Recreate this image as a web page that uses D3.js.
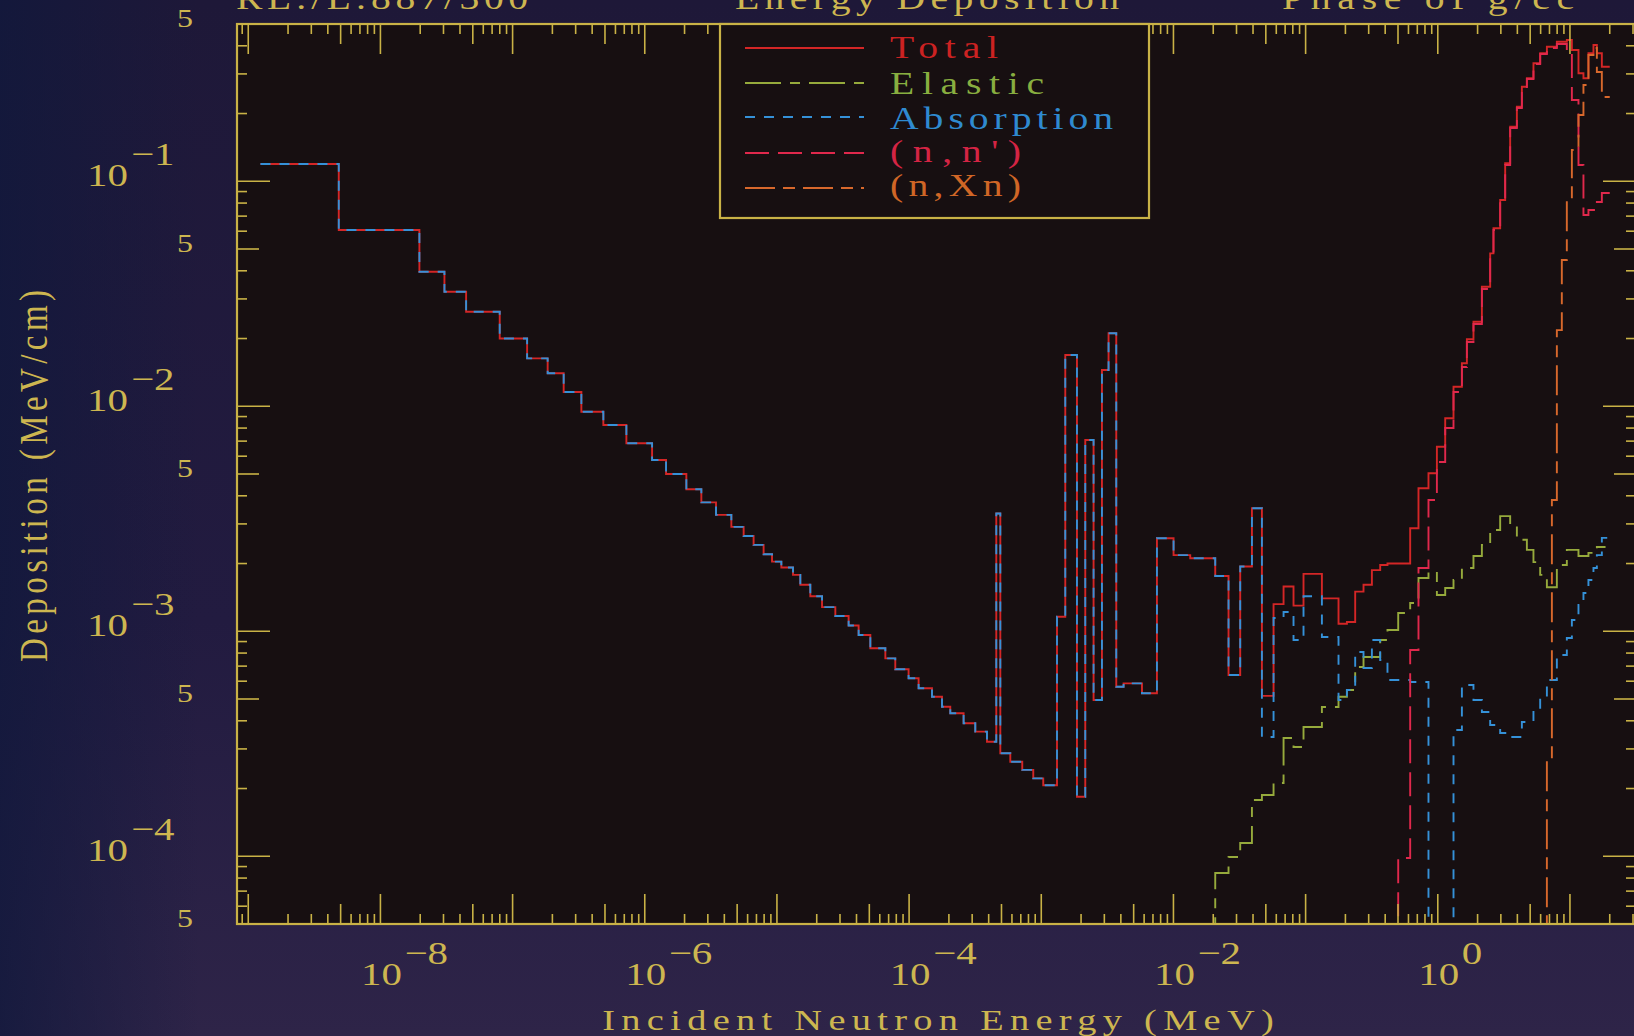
<!DOCTYPE html>
<html><head><meta charset="utf-8">
<script src="https://cdn.jsdelivr.net/npm/d3@7"></script>
<style>html,body{margin:0;padding:0;background:#211b3c;overflow:hidden}</style>
</head><body><svg id="c" width="1634" height="1036"></svg>
<script>
// ---------- DATA (energies in MeV, deposition in MeV/cm) ----------
const groupEdges = [
 1.237e-9, 4.84e-9, 1.972e-8, 3.05e-8, 4.45e-8, 7.99e-8, 1.288e-7, 1.842e-7, 2.435e-7, 3.314e-7,
 4.86e-7, 7.26e-7, 1.136e-6, 1.449e-6, 2.064e-6, 2.68e-6, 3.46e-6, 4.52e-6, 5.60e-6, 6.66e-6,
 7.93e-6, 9.18e-6, 1.080e-5, 1.323e-5, 1.503e-5, 1.789e-5, 2.194e-5, 2.766e-5, 3.486e-5, 4.15e-5,
 5.09e-5, 6.61e-5, 7.86e-5, 9.91e-5, 1.180e-4, 1.490e-4, 1.774e-4, 2.049e-4, 2.584e-4, 3.168e-4,
 3.884e-4, 4.567e-4, 4.90e-4, 5.83e-4, 7.18e-4, 8.70e-4, 1.035e-3, 1.315e-3, 1.519e-3, 1.862e-3,
 2.152e-3, 2.487e-3, 2.878e-3, 3.229e-3, 3.693e-3, 4.194e-3, 5.78e-3, 7.50e-3, 1.002e-2, 1.340e-2,
 2.071e-2, 2.611e-2, 3.200e-2, 3.925e-2, 4.67e-2, 5.72e-2, 6.81e-2, 8.10e-2, 9.64e-2, 0.1328,
 0.1774, 0.2053, 0.2372, 0.2742, 0.3173, 0.3666, 0.4163, 0.5018, 0.6183, 0.7145,
 0.8504, 0.9845, 1.138, 1.315, 1.522, 1.660, 1.862, 2.156, 2.491, 2.638,
 2.965, 3.235, 3.529, 3.966, 4.327, 4.721, 5.295, 5.953, 6.69, 7.96,
 9.47, 10.34, 11.60, 12.65, 13.80, 15.06, 15.98, 17.43, 20.0];

const totalValues = [
 0.1193, 0.0607, 0.0396, 0.0323, 0.0263, 0.0200, 0.01633, 0.01401, 0.01157, 0.00946,
 0.00826, 0.00685, 0.00577, 0.00500, 0.00428, 0.00374, 0.00329, 0.00291, 0.00265, 0.00242,
 0.00220, 0.00204, 0.00192, 0.00178, 0.00161, 0.00143, 0.00128, 0.00117, 0.00106, 0.000962,
 0.000840, 0.000758, 0.000678, 0.000618, 0.000558, 0.000512, 0.000462, 0.000432, 0.000390, 0.000358,
 0.000323, 0.00334, 0.000287, 0.000263, 0.000242, 0.000222, 0.000207, 0.00116, 0.0169, 0.000184,
 0.00708, 0.000495, 0.0145, 0.0211, 0.000567, 0.000587, 0.000530, 0.00259, 0.00218, 0.00211,
 0.00176, 0.000639, 0.00194, 0.00352, 0.000516, 0.00132, 0.00158, 0.00130, 0.00180, 0.00140,
 0.00108, 0.00110, 0.00150, 0.00161, 0.00187, 0.00197, 0.00200, 0.00200, 0.00287, 0.00432,
 0.00504, 0.00661, 0.00884, 0.01222, 0.01552, 0.01984, 0.02376, 0.0340, 0.0478, 0.0618,
 0.0826, 0.1202, 0.1748, 0.2145, 0.2632, 0.2869, 0.3344, 0.3704, 0.3963, 0.4172,
 0.4244, 0.3833, 0.3019, 0.2869, 0.3704, 0.4033, 0.3704, 0.3230];

// absorption equals total below 0.0467 MeV; values above that differ
const absorptionHigh = [
 0.000339, 0.001146, 0.001218, 0.000915, 0.00143, 0.000943, 0.000495, 0.000548, 0.000809, 0.000687,
 0.000915, 0.000745, 0.000607, 0.000607, 0.000595, 0.000595, 2e-5, 2e-5, 2e-5, 0.000364,
 0.000577, 0.000577, 0.000495, 0.000438, 0.000383, 0.000383, 0.000353, 0.000353, 0.000339, 0.000339,
 0.000395, 0.000395, 0.000447, 0.000512, 0.000607, 0.000784, 0.000933, 0.001122, 0.001308, 0.001479,
 0.00169, 0.00191, 0.00218, 0.00260];
const absorptionSplitE = 4.67e-2;

const elasticFrom = 2.071e-2;
const elasticValues = [
 8.42e-5, 9.92e-5, 1.146e-4, 1.779e-4, 1.873e-4, 2.117e-4, 3.354e-4, 3.059e-4, 3.754e-4, 4.607e-4,
 5.12e-4, 5.48e-4, 6.94e-4, 7.69e-4, 7.69e-4, 9.15e-4, 1.013e-3, 1.206e-3, 1.335e-3, 1.725e-3,
 1.834e-3, 1.450e-3, 1.557e-3, 1.69e-3, 1.91e-3, 1.91e-3, 2.16e-3, 2.42e-3, 2.82e-3, 2.82e-3,
 3.25e-3, 3.25e-3, 2.97e-3, 2.55e-3, 2.55e-3, 2.30e-3, 2.03e-3, 1.78e-3, 1.57e-3, 1.97e-3,
 2.30e-3, 2.30e-3, 2.16e-3, 2.16e-3, 2.23e-3, 2.23e-3, 2.37e-3, 2.37e-3];

const nnpFrom = 0.5018;
const nnpValues = [
 9.82e-5, 8.25e-4, 1.91e-3, 3.83e-3, 5.65e-3, 8.01e-3, 0.01157, 0.01495, 0.0193, 0.0232,
 0.0332, 0.0470, 0.0607, 0.0809, 0.1181, 0.1725, 0.2117, 0.2597, 0.2848, 0.3320,
 0.3678, 0.3911, 0.4075, 0.3755, 0.2297, 0.1181, 0.0708, 0.0745, 0.0745, 0.0809, 0.0887];

const nxnEdges = [6.69, 7.30, 7.96, 8.68, 9.47, 10.34, 11.60, 12.65, 13.80, 15.06, 15.98, 17.43, 20.0];
const nxnValues = [2.68e-4, 3.83e-3, 0.0218, 0.0447, 0.0826, 0.1377, 0.197, 0.268, 0.364, 0.391, 0.306, 0.2368];

const xTickExponents = [-8, -6, -4, -2, 0];
const yTickExponents = [-1, -2, -3, -4];
const yFiveTicks = [5e-1, 5e-2, 5e-3, 5e-4, 5e-5];
const legendLabels = ["Total", "Elastic", "Absorption", "(n,n')", "(n,Xn)"];
const titleTexts = ["RL:/L:887/300", "Energy Deposition", "Phase of g/cc"];
const xTitle = "Incident Neutron Energy (MeV)";
const yTitle = "Deposition (MeV/cm)";

// ---------- LAYOUT ----------
const W = 1634, H = 1036;
const L = 237, R = 1636, T = 24, B = 924;
const FONT = '"Liberation Serif","DejaVu Serif",serif';
const YEL = "#c9b246", TXT = "#cdb650";
const CH = 23;    // monospaced advance of the plotting font

const x = d3.scaleLog().domain([8.22e-10, 31.6]).range([L, R]);
const y = d3.scaleLog().domain([5e-5, 0.5]).range([B, T]);

const svg = d3.select("#c");
const defs = svg.append("defs");
const bg = defs.append("linearGradient").attr("id", "bgv").attr("x1", 0).attr("y1", 0).attr("x2", 0).attr("y2", 1);
bg.append("stop").attr("offset", "0%").attr("stop-color", "#1e1838");
bg.append("stop").attr("offset", "60%").attr("stop-color", "#221b40");
bg.append("stop").attr("offset", "100%").attr("stop-color", "#2e2448");
const bgl = defs.append("linearGradient").attr("id", "bgh").attr("x1", 0).attr("y1", 0).attr("x2", 1).attr("y2", 0);
bgl.append("stop").attr("offset", "0%").attr("stop-color", "#10183c").attr("stop-opacity", 0.75);
bgl.append("stop").attr("offset", "100%").attr("stop-color", "#10183c").attr("stop-opacity", 0);
defs.append("clipPath").attr("id", "plotclip").append("rect")
  .attr("x", L).attr("y", T).attr("width", R - L).attr("height", B - T);

svg.append("rect").attr("width", W).attr("height", H).attr("fill", "url(#bgv)");
svg.append("rect").attr("width", 200).attr("height", H).attr("fill", "url(#bgh)");
svg.append("rect").attr("x", L).attr("y", T).attr("width", R - L).attr("height", B - T).attr("fill", "#170f11");

// text in a wide, evenly spaced plotter style
function monoText(g, str, px, py, size, anchor, opts) {
  const o = Object.assign({adv: CH, sx: 1.28, sy: 1}, opts || {});
  const t = g.append("text").attr("transform", `translate(${px},${py}) scale(${o.sx},${o.sy})`)
    .attr("x", 0).attr("y", 0).attr("font-size", size).attr("font-family", FONT).text(str);
  if (anchor) t.attr("text-anchor", anchor);
  if (str.length > 2) t.attr("textLength", (o.adv * str.length - o.adv * 0.3) / o.sx).attr("lengthAdjust", "spacing");
  return t;
}

// ---------- TITLES (cut at the top edge, as in the source) ----------
const titleX = [236, 735, 1282];
const gTitle = svg.append("g").attr("fill", TXT);
titleTexts.forEach((t, i) => monoText(gTitle, t, titleX[i], 9, 31));

// ---------- SERIES ----------
const absorptionValues = totalValues.slice(0, groupEdges.indexOf(absorptionSplitE)).concat(absorptionHigh);
const series = [
  {name: "Total", edges: groupEdges, values: totalValues, color: "#d42626", dash: null, fromBottom: false},
  {name: "Elastic", edges: groupEdges.slice(groupEdges.indexOf(elasticFrom)), values: elasticValues, color: "#96aa3c", dash: "36,9,10,9", fromBottom: true},
  {name: "Absorption", edges: groupEdges, values: absorptionValues, color: "#3591d8", dash: "10,9", fromBottom: false},
  {name: "(n,n')", edges: groupEdges.slice(groupEdges.indexOf(nnpFrom)), values: nnpValues, color: "#e0284c", dash: "24,9", fromBottom: true},
  {name: "(n,Xn)", edges: nxnEdges, values: nxnValues, color: "#d8682c", dash: "30,8,12,8", fromBottom: true}
];
const legendColors = ["#cc2222", "#88ae40", "#2f8ad0", "#d42444", "#d06626"];

const line = d3.line().x(d => x(d[0])).y(d => y(d[1]));
function stepPoints(s) {
  const pts = [];
  if (s.fromBottom) pts.push([s.edges[0], y.domain()[0] * 0.2]);
  s.values.forEach((v, i) => { pts.push([s.edges[i], v]); pts.push([s.edges[i + 1], v]); });
  return pts;
}
const gData = svg.append("g").attr("clip-path", "url(#plotclip)");
series.forEach(s => {
  gData.append("path").attr("d", line(stepPoints(s))).attr("fill", "none")
    .attr("stroke", s.color).attr("stroke-width", 1.9)
    .attr("stroke-dasharray", s.dash).attr("stroke-linejoin", "miter");
});

// ---------- TICKS ----------
function logTicks(scale) {
  const [a, b] = scale.domain(), out = [];
  for (let d = Math.floor(Math.log10(a)); d <= Math.ceil(Math.log10(b)); d++) {
    for (let m = 1; m <= 9; m++) {
      const v = m * Math.pow(10, d);
      if (v >= a * 0.999 && v <= b * 1.001) out.push({v, m});
    }
  }
  return out;
}
const gt = svg.append("g").attr("stroke", YEL).attr("stroke-width", 1.6);
logTicks(x).forEach(t => {
  const len = t.m === 1 ? 30 : (t.m === 5 ? 20 : 10);
  const px = x(t.v);
  gt.append("line").attr("x1", px).attr("x2", px).attr("y1", B).attr("y2", B - len);
  gt.append("line").attr("x1", px).attr("x2", px).attr("y1", T).attr("y2", T + len);
});
logTicks(y).forEach(t => {
  const len = t.m === 1 ? 33 : (t.m === 5 ? 22 : 10);
  const py = y(t.v);
  gt.append("line").attr("x1", L).attr("x2", L + len).attr("y1", py).attr("y2", py);
  gt.append("line").attr("x1", R).attr("x2", R - len).attr("y1", py).attr("y2", py);
});

// frame
svg.append("rect").attr("x", L).attr("y", T).attr("width", R - L).attr("height", B - T)
  .attr("fill", "none").attr("stroke", YEL).attr("stroke-width", 2.2);

// ---------- TICK LABELS ----------
const gl = svg.append("g").attr("fill", TXT);
xTickExponents.forEach(e => {
  const px = x(Math.pow(10, e));
  monoText(gl, "10", px + 1, 985, 32, "middle");
  monoText(gl, e < 0 ? "\u2212" + (-e) : String(e), px + 24, 964, 32);
});
yTickExponents.forEach(e => {
  const py = y(Math.pow(10, e));
  monoText(gl, "10", 128, py + 5, 32, "end");
  monoText(gl, "\u2212" + (-e), 131, py - 16, 32);
});
yFiveTicks.forEach(v => monoText(gl, "5", 185, y(v) + 3, 25, "middle"));

// ---------- AXIS TITLES ----------
monoText(gl, xTitle, 938, 1030, 30, "middle", {adv: 23.4});
const gy = svg.append("g").attr("transform", "translate(47,476) rotate(-90)").attr("fill", TXT);
monoText(gy, yTitle, 0, 0, 30, "middle", {adv: 19.9, sx: 1.1, sy: 1.35});

// ---------- LEGEND ----------
const lg = svg.append("g");
lg.append("rect").attr("x", 720).attr("y", T).attr("width", 429).attr("height", 194)
  .attr("fill", "#170f11").attr("stroke", YEL).attr("stroke-width", 2.2);
const rowLine = [48, 83, 117, 153, 188], rowText = [58, 94, 129, 162, 196];
series.forEach((s, i) => {
  lg.append("line").attr("x1", 745).attr("x2", 864).attr("y1", rowLine[i]).attr("y2", rowLine[i])
    .attr("stroke", s.color).attr("stroke-width", 2).attr("stroke-dasharray", s.dash);
  monoText(lg, legendLabels[i], 890, rowText[i], 31).attr("fill", legendColors[i]);
});
</script></body></html>
